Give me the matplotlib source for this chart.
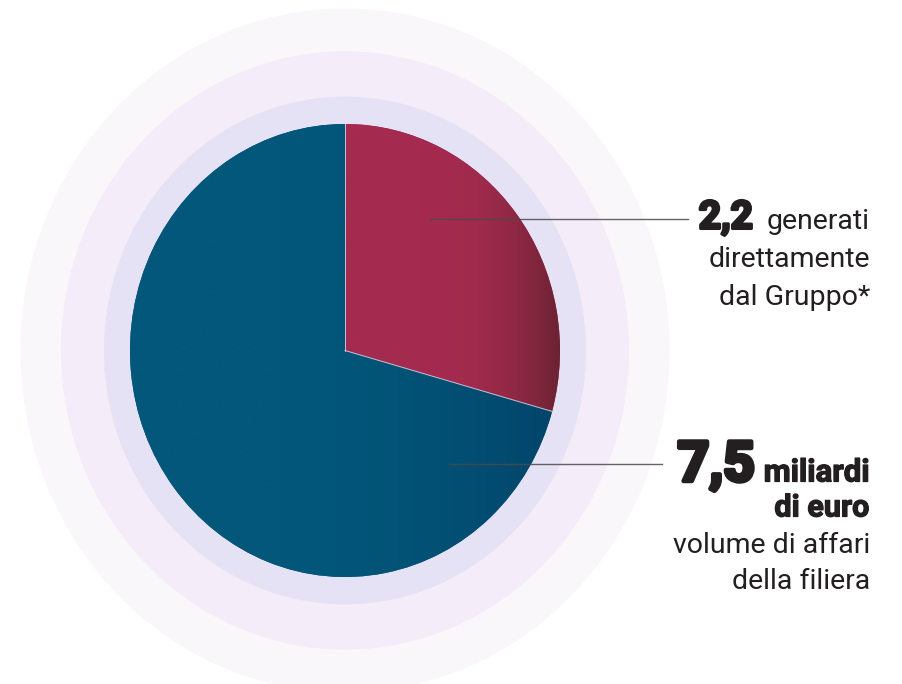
import numpy as np
import matplotlib
matplotlib.use("Agg")
import matplotlib.pyplot as plt
import matplotlib.patheffects as pe
from matplotlib.patches import Circle
from matplotlib.colors import to_rgb

# data (miliardi di euro)
total = 7.5
direct = 2.2
values = [direct, total - direct]
slice_colors = ["#A42B4F", "#02577A"]
slice_dark = ["#6A2333", "#03446A"]

big_numbers = ["2,2", "7,5"]
labels_first = ["generati", "miliardi"]
labels_rest = [["direttamente", "dal Gruppo*"], ["di euro", "volume di affari", "della filiera"]]

ring_radii = [1.51, 1.321, 1.121]
ring_colors = ["#FAF7FB", "#F4ECF8", "#E4E2F4"]

W, H = 902, 684
cx, cy = 345, 350.5      # pie centre in pixels (from top)
sx, sy = 215.0, 226.5    # pixels per unit, the picture is a bit stretched vertically

fig = plt.figure(figsize=(W / 100, H / 100), dpi=100)
ax = fig.add_axes([0, 0, 1, 1])

for r, c in zip(ring_radii, ring_colors):
    ax.add_patch(Circle((0, 0), r, color=c, lw=0, zorder=0))

wedges, _ = ax.pie(values, colors=slice_colors, startangle=90, counterclock=False,
                   radius=1, wedgeprops=dict(linewidth=0))

# horizontal shading, darker towards the right edge
xs = np.linspace(-1, 1, 400)
for w, c0, c1, start, p in zip(wedges, slice_colors, slice_dark, [0.35, -0.3], [2.6, 1.8]):
    w.set_zorder(1)
    t = np.clip((xs - start) / (1 - start), 0, 1) ** p
    a, b = np.array(to_rgb(c0)), np.array(to_rgb(c1))
    img = a[None, :] * (1 - t[:, None]) + b[None, :] * t[:, None]
    im = ax.imshow(img[None, :, :], extent=(-1, 1, -1, 1), aspect="auto",
                   interpolation="bilinear", zorder=2)
    im.set_clip_path(w)

# thin light separators between the slices
ang = np.deg2rad([90, 90 - 360 * direct / total])
for a_ in ang:
    ax.plot([0, np.cos(a_)], [0, np.sin(a_)], color="#C9BFD3", lw=0.7, zorder=3)

ax.set_aspect("auto")
ax.set_xlim(-cx / sx, (W - cx) / sx)
ax.set_ylim(-(H - cy) / sy, cy / sy)
ax.axis("off")


def d(px, py):  # pixel (top origin) -> data
    return (px - cx) / sx, (cy - py) / sy


# leader lines
for (x0, x1, y) in [(430, 688, 219), (449, 662, 464)]:
    p0, p1 = d(x0, y), d(x1, y)
    ax.plot([p0[0], p1[0]], [p0[1], p1[1]], color="#4a4a4a", lw=1, alpha=0.85, zorder=4)

txt = "#231F20"
fig.canvas.draw()
rend = fig.canvas.get_renderer()


def put(x, y, s, stroke=0, **kw):
    t = fig.text(x / W, 1 - y / H, s, ha="right", va="baseline", color=txt,
                 family="Roboto", **kw)
    if stroke:
        t.set_path_effects([pe.withStroke(linewidth=stroke, foreground=txt)])
    return t


right = 870
# first block
t1 = put(right, 229, labels_first[0], fontsize=20.5)
bb = t1.get_window_extent(rend)
put(bb.x0 - 14, 228.5, big_numbers[0], stroke=2.2, fontweight="bold", fontsize=28)
for i, s in enumerate(labels_rest[0]):
    put(right, 267 + 38 * i, s, fontsize=20.5)

# second block
t2 = put(right - 0.5, 481.5, labels_first[1], stroke=0.9, fontweight="bold", fontsize=22.5)
bb = t2.get_window_extent(rend)
put(bb.x0 - 9, 481, big_numbers[1], stroke=3.2, fontweight="bold", fontsize=40)
put(right - 0.5, 516.5, labels_rest[1][0], stroke=0.9, fontweight="bold", fontsize=22)
for i, s in enumerate(labels_rest[1][1:]):
    put(right, 553 + 36 * i, s, fontsize=20.5)

fig.savefig("out.png", dpi=100, facecolor="white")
